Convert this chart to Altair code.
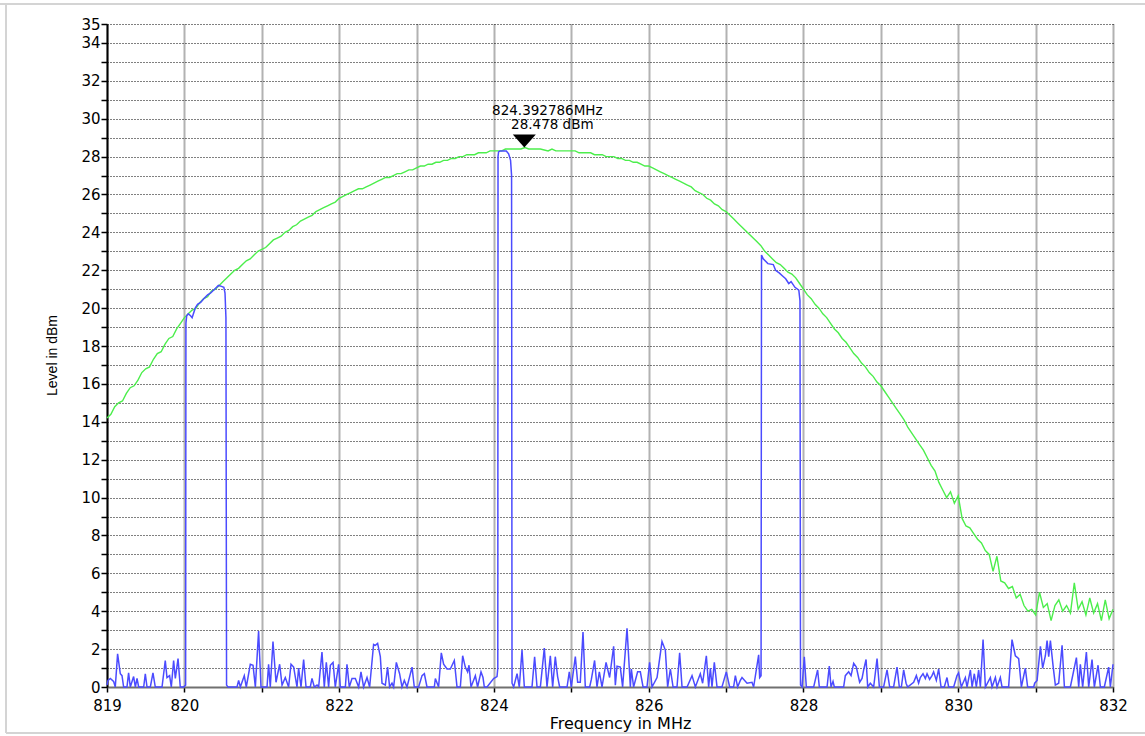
import altair as alt
import numpy as np
import pandas as pd

# Axis ranges, ticks and labels
F_MIN, F_MAX = 819, 832
L_MIN, L_MAX = 0, 35
X_TICKS = list(range(819, 833))
X_LABELS = [819, 820, 822, 824, 826, 828, 830, 832]
Y_TICKS = list(range(0, 36))
Y_LABELS = list(range(0, 35, 2)) + [35]

# Peak marker
MARKER_FREQ = 824.392786
MARKER_LEVEL = 28.478

# Max-hold trace (dBm), sampled every 0.05 MHz from 819.00 to 832.00
MAXHOLD_STEP = 0.05
MAXHOLD_LEVEL = [
    14.2, 14.4, 14.8, 15.0, 15.1, 15.5, 15.8, 15.9, 16.2, 16.6, 16.8, 16.9, 17.3, 17.6, 17.7, 18.1, 18.4, 18.5, 18.9, 19.2, 19.5,
    19.7, 19.9, 20.0, 20.3, 20.5, 20.6, 20.9, 21.0, 21.2, 21.4, 21.6, 21.8, 22.0, 22.1, 22.3, 22.5, 22.6, 22.8, 23.0, 23.1,
    23.2, 23.4, 23.6, 23.7, 23.8, 24.0, 24.1, 24.3, 24.4, 24.6, 24.7, 24.8, 24.9, 25.1, 25.2, 25.3, 25.4, 25.5, 25.6, 25.8,
    25.9, 26.0, 26.1, 26.2, 26.3, 26.3, 26.4, 26.5, 26.6, 26.7, 26.8, 26.9, 26.9, 27.0, 27.1, 27.1, 27.2, 27.3, 27.3, 27.4,
    27.5, 27.5, 27.6, 27.6, 27.7, 27.7, 27.8, 27.8, 27.9, 27.9, 28.0, 28.0, 28.1, 28.1, 28.1, 28.2, 28.2, 28.2, 28.3, 28.3,
    28.3, 28.3, 28.4, 28.4, 28.4, 28.4, 28.4, 28.48, 28.4, 28.4, 28.4, 28.4, 28.35, 28.3, 28.4, 28.3, 28.3, 28.3, 28.3, 28.3,
    28.3, 28.2, 28.2, 28.2, 28.2, 28.1, 28.1, 28.1, 28.0, 28.0, 28.0, 27.9, 27.9, 27.8, 27.8, 27.7, 27.7, 27.6, 27.5, 27.5,
    27.4, 27.3, 27.2, 27.1, 27.0, 26.9, 26.8, 26.7, 26.6, 26.5, 26.4, 26.2, 26.1, 26.0, 25.8, 25.7, 25.5, 25.4, 25.2, 25.1,
    24.9, 24.7, 24.5, 24.3, 24.1, 23.9, 23.7, 23.5, 23.3, 23.0, 22.8, 22.6, 22.4, 22.3, 22.1, 21.9, 21.8, 21.6, 21.3, 21.0,
    20.7, 20.5, 20.2, 20.0, 19.7, 19.5, 19.2, 18.9, 18.7, 18.4, 18.2, 17.9, 17.6, 17.4, 17.1, 16.9, 16.6, 16.4, 16.1, 15.9,
    15.6, 15.3, 15.0, 14.7, 14.4, 14.1, 13.7, 13.4, 13.1, 12.8, 12.5, 12.1, 11.7, 11.4, 10.8, 10.4, 10.0, 10.3, 9.7, 10.1,
    8.9, 8.5, 8.4, 8.1, 7.8, 7.6, 7.2, 7.0, 6.1, 6.9, 5.6, 5.5, 5.2, 5.3, 4.7, 4.9, 4.3, 4.0, 4.1, 3.8,
    5.0, 4.2, 4.4, 3.5, 4.3, 4.6, 4.0, 4.3, 3.9, 5.5, 4.1, 4.5, 3.8, 4.7, 3.9, 4.4, 3.5, 4.6, 3.6, 4.1,
]

# Clear-write trace as (MHz, dBm) pairs, split into noise stretches and carriers
CW_819_820 = [
    (819.000, 0.1), (819.013, 0.35), (819.043, 0.45), (819.085, 0.3), (819.107, 0.0), (819.137, 1.75),
    (819.172, 0.7), (819.194, 0.6), (819.215, 0.0), (819.258, 0.0), (819.279, 0.75), (819.301, 0.0),
    (819.344, 0.55), (819.366, 0.0), (819.388, 0.45), (819.409, 0.0), (819.474, 0.0), (819.495, 0.7),
    (819.517, 0.0), (819.560, 0.0), (819.594, 0.75), (819.624, 0.0), (819.711, 0.0), (819.753, 1.4),
    (819.775, 0.5), (819.809, 0.6), (819.831, 0.0), (819.861, 1.4), (819.883, 0.45), (819.918, 1.5),
    (819.947, 0.0), (819.990, 0.0), (820.016, 0.1),
]
CW_CARRIER_1 = [
    (820.020, 19.2), (820.030, 19.6), (820.050, 19.7), (820.080, 19.6), (820.100, 19.5), (820.140, 20.0),
    (820.170, 20.2), (820.210, 20.3), (820.250, 20.5), (820.300, 20.7), (820.340, 20.8), (820.390, 21.0),
    (820.440, 21.2), (820.480, 21.15), (820.510, 21.1), (820.525, 20.8), (820.537, 19.5), (820.545, 0.1),
]
CW_820_824 = [
    (820.564, 0.0), (820.680, 0.0), (820.701, 0.35), (820.723, 0.0), (820.774, 0.6), (820.800, 0.0),
    (820.852, 1.2), (820.887, 1.15), (820.917, 0.0), (820.959, 2.95), (820.990, 0.0), (821.068, 0.0),
    (821.088, 1.2), (821.110, 0.0), (821.145, 2.4), (821.184, 0.25), (821.231, 1.2), (821.262, 0.1),
    (821.304, 0.5), (821.347, 0.0), (821.378, 1.2), (821.412, 1.05), (821.455, 0.0), (821.476, 1.0),
    (821.507, 0.0), (821.541, 1.45), (821.572, 0.0), (821.627, 0.0), (821.649, 0.45), (821.679, 0.0),
    (821.714, 0.1), (821.735, 0.0), (821.778, 1.85), (821.808, 0.0), (821.834, 1.3), (821.864, 0.0),
    (821.886, 1.15), (821.921, 1.3), (821.950, 0.0), (821.993, 1.2), (822.015, 0.0), (822.080, 0.0),
    (822.101, 1.2), (822.131, 0.0), (822.166, 0.45), (822.209, 0.45), (822.252, 0.0), (822.282, 0.8),
    (822.316, 0.0), (822.360, 0.5), (822.394, 0.0), (822.445, 2.25), (822.467, 2.2), (822.497, 2.3),
    (822.532, 1.6), (822.554, 0.2), (822.597, 0.1), (822.626, 1.05), (822.652, 0.0), (822.683, 0.2),
    (822.704, 0.0), (822.739, 1.3), (822.781, 0.7), (822.812, 0.0), (822.842, 0.35), (822.877, 0.0),
    (822.942, 1.05), (822.971, 0.0), (823.027, 0.0), (823.071, 0.6), (823.101, 0.7), (823.135, 0.0),
    (823.230, 0.0), (823.243, 0.45), (823.285, 0.0), (823.320, 1.8), (823.350, 1.2), (823.394, 0.95),
    (823.437, 0.95), (823.488, 1.4), (823.523, 0.0), (823.566, 0.0), (823.596, 1.65), (823.630, 1.05),
    (823.660, 0.8), (823.678, 1.15), (823.704, 0.0), (823.760, 0.6), (823.789, 0.0), (823.833, 0.8),
    (823.859, 0.5), (823.876, 0.0), (823.911, 0.0), (823.996, 0.45), (824.040, 0.55), (824.050, 1.0),
]
CW_CARRIER_2 = [
    (824.053, 28.0), (824.060, 28.25), (824.080, 28.3), (824.160, 28.3), (824.190, 28.15),
    (824.215, 27.8), (824.228, 27.0), (824.234, 0.2),
]
CW_824_827 = [
    (824.255, 0.0), (824.299, 0.7), (824.328, 0.0), (824.363, 1.95), (824.393, 0.0), (824.449, 0.0),
    (824.492, 0.0), (824.526, 1.6), (824.557, 0.0), (824.600, 0.0), (824.651, 2.05), (824.686, 0.0),
    (824.729, 1.65), (824.759, 0.0), (824.793, 1.6), (824.823, 0.55), (824.849, 0.0), (824.945, 0.0),
    (824.974, 0.8), (825.000, 0.0), (825.052, 1.6), (825.082, 0.25), (825.116, 0.25), (825.151, 2.9),
    (825.181, 0.0), (825.237, 0.0), (825.259, 0.4), (825.301, 1.4), (825.332, 0.0), (825.362, 0.8),
    (825.397, 0.0), (825.449, 1.3), (825.495, 0.5), (825.547, 2.15), (825.569, 0.1), (825.591, 1.1),
    (825.633, 1.05), (825.663, 0.0), (825.720, 3.1), (825.763, 0.0), (825.776, 0.95), (825.805, 0.0),
    (825.857, 0.8), (825.892, 0.8), (825.927, 0.0), (825.978, 0.0), (826.012, 1.3), (826.043, 0.0),
    (826.108, 0.5), (826.172, 2.4), (826.215, 1.95), (826.245, 0.0), (826.280, 0.95), (826.315, 0.0),
    (826.366, 0.0), (826.400, 1.8), (826.431, 0.0), (826.496, 0.0), (826.560, 0.6), (826.603, 0.0),
    (826.667, 0.7), (826.697, 0.2), (826.745, 1.65), (826.775, 0.0), (826.797, 1.0), (826.818, 0.0),
    (826.848, 1.3), (826.883, 0.0), (826.947, 0.0), (827.003, 0.8), (827.046, 0.0), (827.097, 0.0),
    (827.120, 0.6), (827.149, 0.0), (827.184, 0.35), (827.206, 0.5), (827.271, 0.2), (827.335, 0.25),
    (827.356, 0.0), (827.421, 1.7), (827.434, 0.5), (827.452, 0.6),
]
CW_CARRIER_3 = [
    (827.458, 22.8), (827.480, 22.6), (827.540, 22.35), (827.610, 22.3), (827.640, 22.0), (827.690, 21.85),
    (827.730, 21.7), (827.770, 21.55), (827.810, 21.3), (827.840, 21.4), (827.890, 21.1), (827.940, 20.95),
    (827.955, 20.4), (827.962, 0.1),
]
CW_828_832 = [
    (827.982, 0.0), (828.011, 1.6), (828.037, 0.0), (828.132, 0.0), (828.183, 0.9), (828.205, 0.0),
    (828.305, 0.0), (828.334, 1.1), (828.356, 0.0), (828.382, 0.3), (828.399, 0.0), (828.519, 0.0),
    (828.541, 0.6), (828.584, 0.8), (828.615, 0.6), (828.649, 1.25), (828.683, 1.05), (828.726, 0.25),
    (828.757, 0.45), (828.778, 0.9), (828.809, 1.45), (828.830, 0.0), (828.864, 0.2), (828.907, 0.0),
    (828.951, 1.5), (828.981, 0.0), (829.036, 0.0), (829.080, 0.9), (829.114, 0.0), (829.165, 0.0),
    (829.209, 1.05), (829.239, 0.0), (829.265, 0.0), (829.295, 0.9), (829.326, 0.2), (829.346, 0.0),
    (829.424, 0.25), (829.459, 0.6), (829.488, 0.2), (829.510, 0.5), (829.545, 0.7), (829.575, 0.45),
    (829.597, 0.7), (829.630, 0.4), (829.661, 0.6), (829.682, 0.8), (829.717, 0.35), (829.747, 0.95),
    (829.778, 0.0), (829.820, 0.0), (829.855, 0.5), (829.876, 0.0), (829.941, 0.0), (829.984, 0.6),
    (830.005, 0.75), (830.040, 0.0), (830.092, 0.5), (830.114, 0.0), (830.157, 0.9), (830.179, 0.0),
    (830.208, 0.7), (830.234, 0.0), (830.264, 0.9), (830.286, 0.0), (830.321, 2.5), (830.351, 0.0),
    (830.415, 0.5), (830.437, 0.0), (830.480, 0.5), (830.502, 0.0), (830.544, 0.5), (830.566, 0.0),
    (830.651, 0.0), (830.695, 2.5), (830.738, 1.65), (830.781, 1.5), (830.816, 0.0), (830.867, 1.0),
    (830.897, 0.0), (830.975, 0.0), (830.988, 0.2), (831.019, 0.35), (831.062, 2.15), (831.091, 1.0),
    (831.126, 1.65), (831.148, 2.45), (831.169, 1.6), (831.191, 2.45), (831.226, 1.1), (831.255, 0.1),
    (831.298, 0.2), (831.342, 2.2), (831.372, 0.0), (831.449, 0.0), (831.527, 1.55), (831.557, 0.0),
    (831.578, 1.2), (831.608, 0.0), (831.656, 1.85), (831.686, 0.0), (831.729, 1.45), (831.759, 0.0),
    (831.807, 1.15), (831.837, 0.0), (831.888, 0.0), (831.944, 1.05), (831.966, 0.0), (832.000, 1.2),
]

# ---------------------------------------------------------------- tables
maxhold = pd.DataFrame({
    "freq": np.round(F_MIN + MAXHOLD_STEP * np.arange(len(MAXHOLD_LEVEL)), 3),
    "level": MAXHOLD_LEVEL,
})
clearwrite = pd.DataFrame(
    CW_819_820 + CW_CARRIER_1 + CW_820_824 + CW_CARRIER_2 + CW_824_827 + CW_CARRIER_3 + CW_828_832,
    columns=["freq", "level"],
)
marker = pd.DataFrame({"freq": [MARKER_FREQ], "level": [MARKER_LEVEL]})
one_row = pd.DataFrame({"k": [0]})

# ---------------------------------------------------------------- scales / axes
PLOT_W, PLOT_H = 1006, 663
x_scale = alt.Scale(domain=[F_MIN, F_MAX], nice=False, zero=False)
y_scale = alt.Scale(domain=[L_MIN, L_MAX], nice=False, zero=False)

x_axis = alt.Axis(
    values=X_TICKS,
    format="d",
    labelExpr=f"indexof({X_LABELS}, datum.value) >= 0 ? datum.label : ''",
    title="Frequency in MHz",
    titleFont="DejaVu Sans",
    titleFontSize=16,
    titleFontWeight="normal",
    titleX=513,
    titleY=36,
    titleAlign="center",
    titleBaseline="middle",
    labelFont="DejaVu Sans",
    labelFontSize=15,
    labelPadding=6,
    labelFlush=False,
    labelOverlap=False,
    labelBound=False,
    domainColor="#707070",
    domainWidth=2,
    tickColor="#000000",
    tickSize=5,
    tickWidth=1.5,
    grid=True,
    gridColor="#555555",
    gridDash=[1, 1],
    gridWidth=2,
    gridOpacity=0.9,
)
y_axis = alt.Axis(
    values=Y_TICKS,
    format="d",
    labelExpr=f"indexof({Y_LABELS}, datum.value) >= 0 ? datum.label : ''",
    title="Level in dBm",
    titleFont="Liberation Sans",
    titleFontSize=14,
    titleFontWeight="normal",
    titleX=-55,
    titleY=331,
    titleAngle=270,
    titleAlign="center",
    titleBaseline="middle",
    labelFont="DejaVu Sans",
    labelFontSize=15,
    labelPadding=1,
    labelFlush=False,
    labelOverlap=False,
    labelBound=False,
    domainColor="#000000",
    domainWidth=2,
    tickColor="#000000",
    tickSize=6,
    tickWidth=1.5,
    grid=True,
    gridColor="#000000",
    gridDash=[1, 2],
    gridWidth=1,
    gridOpacity=1,
)

# every data layer shares the same scales and axis definitions
X_ENC = alt.X("freq:Q", scale=x_scale, axis=x_axis)
Y_ENC = alt.Y("level:Q", scale=y_scale, axis=y_axis)

# ---------------------------------------------------------------- layers
maxhold_line = alt.Chart(maxhold).mark_line(
    color="#4cee4c", strokeWidth=1.4, interpolate="linear"
).encode(x=X_ENC, y=Y_ENC)

clearwrite_line = alt.Chart(clearwrite).mark_line(
    color="#4b4bff", strokeWidth=1.5, interpolate="linear"
).encode(x=X_ENC, y=Y_ENC)

marker_symbol = alt.Chart(marker).mark_point(
    shape="M-1,-1.13L1,-1.13L0,0Z", size=529, filled=True, color="#000000", opacity=1, strokeWidth=0
).encode(x=X_ENC, y=Y_ENC)

marker_freq_text = alt.Chart(marker).mark_text(
    font="DejaVu Sans", fontSize=13.5, color="#000000", align="center", baseline="middle", dx=23, dy=-37
).encode(x=X_ENC, y=Y_ENC, text=alt.value(f"{MARKER_FREQ:.6f}MHz"))

marker_level_text = alt.Chart(marker).mark_text(
    font="DejaVu Sans", fontSize=13.5, color="#000000", align="center", baseline="middle", dx=28, dy=-23
).encode(x=X_ENC, y=Y_ENC, text=alt.value(f"{MARKER_LEVEL:.3f} dBm"))

# light outer frame around the whole figure
FRAME = "#d4d4d4"
frame_top = alt.Chart(one_row).mark_rule(color=FRAME, strokeWidth=2).encode(
    x=alt.value(-107), x2=alt.value(1038), y=alt.value(-20)
)
frame_left = alt.Chart(one_row).mark_rule(color=FRAME, strokeWidth=2).encode(
    x=alt.value(-101), y=alt.value(-20), y2=alt.value(709)
)
frame_bottom = alt.Chart(one_row).mark_rule(color=FRAME, strokeWidth=2).encode(
    x=alt.value(-101), x2=alt.value(1038), y=alt.value(709)
)

chart = alt.layer(
    maxhold_line,
    clearwrite_line,
    marker_symbol,
    marker_freq_text,
    marker_level_text,
    frame_top,
    frame_left,
    frame_bottom,
).properties(
    width=PLOT_W,
    height=PLOT_H,
    padding={"left": 107, "top": 24, "right": 32, "bottom": 49},
    autosize=alt.AutoSizeParams(type="none"),
    background="#ffffff",
).configure_view(
    stroke=None
).configure_axis(
    labelColor="#000000",
    titleColor="#000000",
)

chart.save("out.html", embed_options={"renderer": "svg", "actions": False})
